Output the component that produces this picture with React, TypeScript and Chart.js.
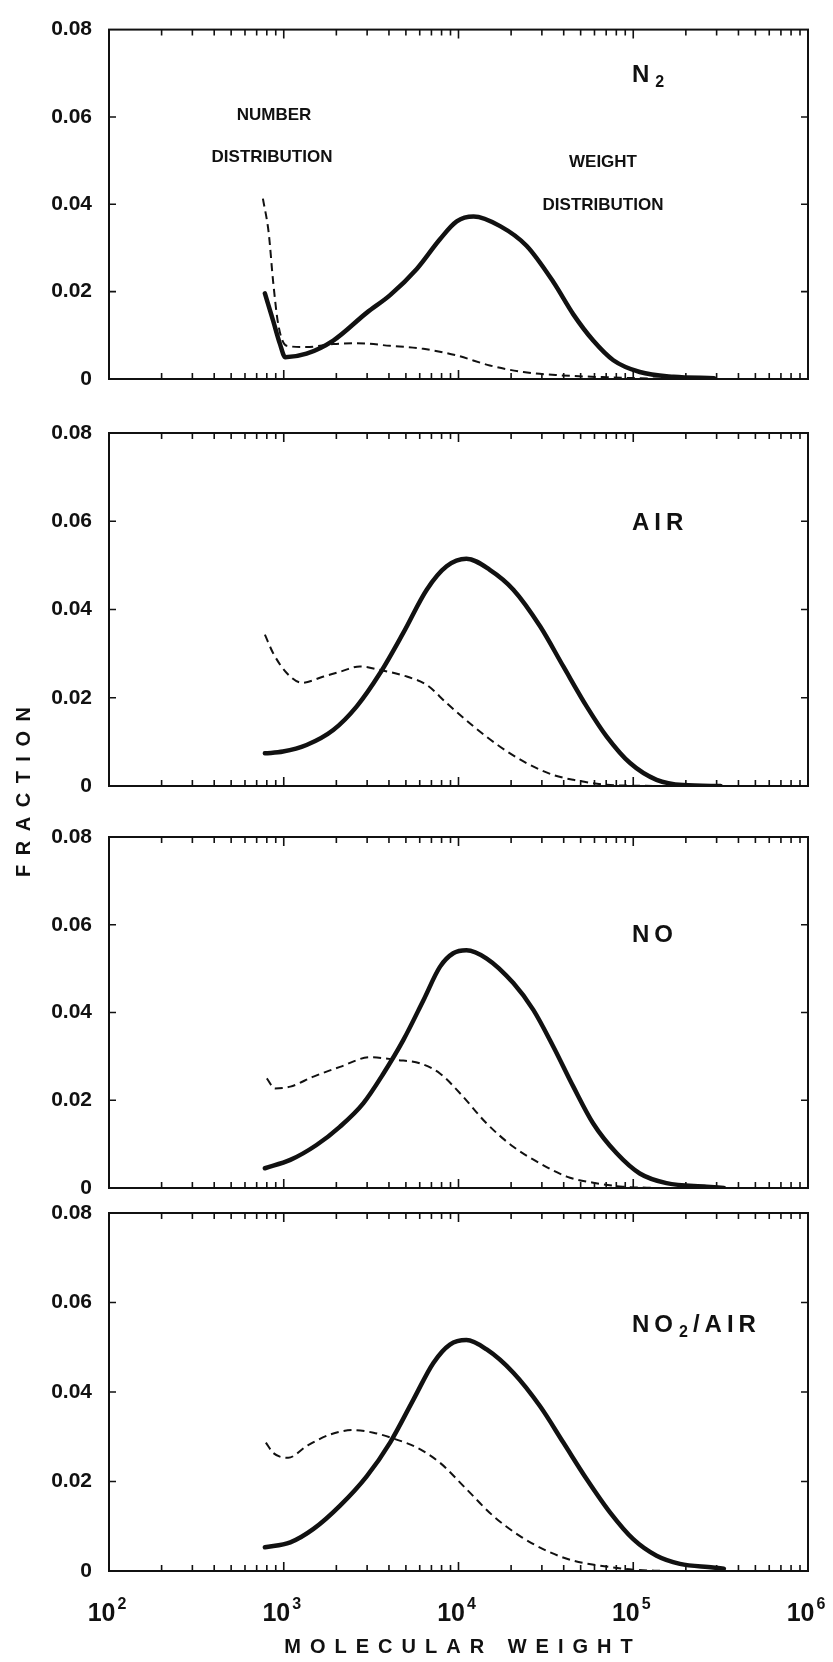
import React, { useEffect, useRef } from 'react';
import { Chart, registerables } from 'chart.js';

Chart.register(...registerables);

// ---------- tick labels ----------
const xTickDecades = [100, 1000, 10000, 100000, 1000000];
const xTickExponents = ['2', '3', '4', '5', '6'];
const yTickValues = [0, 0.02, 0.04, 0.06, 0.08];

// ---------- N2 ----------
const n2WeightMW = [780, 870, 950, 1020, 1350, 1920, 2990, 4060, 5770, 7830, 9770, 12200, 17300, 24500, 34900, 45400, 59000, 76900, 109000, 170000, 290000];
const n2WeightFrac = [0.0196, 0.0133, 0.0081, 0.005, 0.0058, 0.0088, 0.0152, 0.0192, 0.0252, 0.032, 0.0361, 0.0372, 0.035, 0.0305, 0.0222, 0.0148, 0.0088, 0.0043, 0.0016, 0.0005, 0.0002];
const n2NumberMW = [760, 820, 870, 930, 1040, 1350, 1920, 2610, 4060, 6300, 9770, 15100, 23500, 36500, 70500, 135000, 250000];
const n2NumberFrac = [0.0413, 0.0335, 0.0222, 0.0125, 0.0076, 0.0073, 0.008, 0.0082, 0.0076, 0.0069, 0.0054, 0.0031, 0.0016, 0.0009, 0.0004, 0.0001, 0.0];

// ---------- AIR ----------
const airWeightMW = [780, 990, 1350, 1920, 2610, 3560, 4830, 6580, 8550, 11100, 15100, 20600, 29300, 39800, 54200, 70500, 95900, 136000, 193000, 316000];
const airWeightFrac = [0.0074, 0.0078, 0.0093, 0.0127, 0.018, 0.0256, 0.0347, 0.0445, 0.0498, 0.0515, 0.049, 0.0445, 0.0362, 0.0271, 0.018, 0.0112, 0.0052, 0.0014, 0.0002, 0.0];
const airNumberMW = [780, 870, 1040, 1270, 1690, 2100, 2730, 3560, 5060, 6580, 8550, 12200, 17300, 24500, 34900, 45400, 70500, 130000];
const airNumberFrac = [0.0343, 0.0301, 0.0256, 0.0234, 0.0248, 0.0259, 0.0271, 0.0263, 0.0248, 0.0229, 0.0188, 0.0135, 0.0089, 0.0052, 0.0025, 0.0014, 0.0003, 0.0];

// ---------- NO ----------
const noWeightMW = [780, 1090, 1540, 2100, 2850, 3720, 4830, 6300, 7830, 9330, 11100, 14500, 20600, 26800, 34900, 45400, 59000, 80400, 109000, 155000, 263000, 330000];
const noWeightFrac = [0.0045, 0.0064, 0.0098, 0.014, 0.0193, 0.0261, 0.0337, 0.0428, 0.0504, 0.0535, 0.0542, 0.0523, 0.0467, 0.0406, 0.0322, 0.0231, 0.0147, 0.0079, 0.0033, 0.0011, 0.0003, 0.0];
const noNumberMW = [800, 890, 1090, 1480, 2100, 3120, 4430, 6030, 7830, 10200, 14500, 20600, 29300, 41600, 59000, 87100, 140000];
const noNumberFrac = [0.025, 0.0227, 0.0231, 0.0254, 0.0276, 0.0298, 0.0292, 0.0284, 0.0261, 0.0216, 0.0147, 0.0094, 0.0056, 0.0026, 0.0012, 0.0003, 0.0];

// ---------- NO2/AIR ----------
const no2WeightMW = [780, 1090, 1480, 2100, 2990, 4060, 5520, 7180, 8930, 11100, 14500, 20600, 29300, 39800, 54200, 73600, 100000, 136000, 185000, 286000, 330000];
const no2WeightFrac = [0.0053, 0.0064, 0.0094, 0.0146, 0.0212, 0.0287, 0.0383, 0.0465, 0.0506, 0.0516, 0.0495, 0.0443, 0.0368, 0.0287, 0.0205, 0.0131, 0.0071, 0.0034, 0.0016, 0.0008, 0.0005];
const no2NumberMW = [790, 870, 1060, 1350, 1840, 2500, 3260, 4240, 5770, 7830, 11100, 15800, 22500, 32000, 45400, 64600, 100000, 150000];
const no2NumberFrac = [0.0287, 0.0264, 0.0253, 0.0279, 0.0305, 0.0315, 0.0309, 0.0296, 0.0276, 0.0242, 0.0183, 0.0123, 0.0078, 0.0045, 0.0023, 0.0012, 0.0003, 0.0];

// ---------- panel text ----------
const panelMain = ['N', 'AIR', 'NO', 'NO'];
const panelSub = ['2', '', '', '2'];
const panelTail = ['', '', '', '/AIR'];

// layout (page pixels)
const PAGE_W = 833;
const PAGE_H = 1662;
const AREA_LEFT = 109;
const AREA_RIGHT = 808;
const panelTop = [24, 433, 837, 1213];
const panelBottom = [379, 786, 1188, 1571];
const labelBaseline = [82, 530, 942, 1332];
const LABEL_X = 632;

const INK = '#111';
const FONT = '"Liberation Sans", Arial, Helvetica, sans-serif';

const panels = [
  { w: [n2WeightMW, n2WeightFrac], n: [n2NumberMW, n2NumberFrac] },
  { w: [airWeightMW, airWeightFrac], n: [airNumberMW, airNumberFrac] },
  { w: [noWeightMW, noWeightFrac], n: [noNumberMW, noNumberFrac] },
  { w: [no2WeightMW, no2WeightFrac], n: [no2NumberMW, no2NumberFrac] },
];

function spaced(ctx: CanvasRenderingContext2D, text: string, spacing: number) {
  let w = 0;
  for (let i = 0; i < text.length; i++) {
    w += ctx.measureText(text[i]).width + (i < text.length - 1 ? spacing : 0);
  }
  return w;
}

function drawSpaced(ctx: CanvasRenderingContext2D, text: string, x: number, y: number, spacing: number) {
  let cx = x;
  for (let i = 0; i < text.length; i++) {
    ctx.fillText(text[i], cx, y);
    cx += ctx.measureText(text[i]).width + spacing;
  }
  return cx - spacing;
}

function makePlugin(idx: number) {
  return {
    id: 'panelDecor' + idx,
    afterDraw(chart: any) {
      const ctx: CanvasRenderingContext2D = chart.ctx;
      const a = chart.chartArea;
      const xs = chart.scales.x;
      const ys = chart.scales.y;
      ctx.save();
      ctx.strokeStyle = INK;
      ctx.fillStyle = INK;
      // frame
      ctx.lineWidth = 2;
      ctx.strokeRect(a.left, a.top, a.right - a.left, a.bottom - a.top);
      // x ticks (top and bottom, inward)
      ctx.lineWidth = 1.6;
      ctx.beginPath();
      for (let d = 0; d < xTickDecades.length - 1; d++) {
        for (let m = 1; m <= 9; m++) {
          const px = xs.getPixelForValue(xTickDecades[d] * m);
          const len = m === 1 ? 9 : 6;
          ctx.moveTo(px, a.bottom);
          ctx.lineTo(px, a.bottom - len);
          ctx.moveTo(px, a.top);
          ctx.lineTo(px, a.top + len);
        }
      }
      // y ticks (left and right, inward)
      for (const v of yTickValues) {
        if (v === 0 || v === 0.08) continue;
        const py = ys.getPixelForValue(v);
        ctx.moveTo(a.left, py);
        ctx.lineTo(a.left + 7, py);
        ctx.moveTo(a.right, py);
        ctx.lineTo(a.right - 7, py);
      }
      ctx.stroke();

      // panel label
      ctx.textBaseline = 'alphabetic';
      ctx.textAlign = 'left';
      ctx.font = `bold 24px ${FONT}`;
      let cx = drawSpaced(ctx, panelMain[idx], LABEL_X, labelBaseline[idx], 5);
      if (panelSub[idx]) {
        ctx.font = `bold 16px ${FONT}`;
        cx = drawSpaced(ctx, panelSub[idx], cx + 6, labelBaseline[idx] + 5, 0);
      }
      if (panelTail[idx]) {
        ctx.font = `bold 24px ${FONT}`;
        drawSpaced(ctx, panelTail[idx], cx + 5, labelBaseline[idx], 5);
      }

      if (idx === 0) {
        ctx.font = `bold 17px ${FONT}`;
        ctx.textAlign = 'center';
        ctx.fillText('NUMBER', 274, 120);
        ctx.fillText('DISTRIBUTION', 272, 162);
        ctx.fillText('WEIGHT', 603, 167);
        ctx.fillText('DISTRIBUTION', 603, 210);
      }

      if (idx === panelTop.length - 1) {
        // x tick labels 10^n
        ctx.textAlign = 'left';
        ctx.textBaseline = 'alphabetic';
        for (let i = 0; i < xTickDecades.length; i++) {
          const px = xs.getPixelForValue(xTickDecades[i]);
          ctx.font = `bold 25px ${FONT}`;
          const wBase = ctx.measureText('10').width;
          ctx.font = `bold 16px ${FONT}`;
          const wExp = ctx.measureText(xTickExponents[i]).width;
          const total = wBase + 2 + wExp;
          const x0 = px - 2 - total / 2;
          ctx.font = `bold 25px ${FONT}`;
          ctx.fillText('10', x0, 1621);
          ctx.font = `bold 16px ${FONT}`;
          ctx.fillText(xTickExponents[i], x0 + wBase + 2, 1609);
        }
        // x title
        ctx.font = `bold 20px ${FONT}`;
        const title = 'MOLECULAR WEIGHT';
        const tw = spaced(ctx, title, 9);
        drawSpaced(ctx, title, (a.left + a.right) / 2 - tw / 2, 1653, 9);
        // y title
        ctx.save();
        ctx.translate(30, 792);
        ctx.rotate(-Math.PI / 2);
        const ytitle = 'FRACTION';
        const yw = spaced(ctx, ytitle, 9.5);
        drawSpaced(ctx, ytitle, -yw / 2, 0, 9.5);
        ctx.restore();
      }
      ctx.restore();
    },
  };
}

function Panel({ idx }: { idx: number }) {
  const ref = useRef<HTMLCanvasElement | null>(null);
  useEffect(() => {
    const canvas = ref.current;
    if (!canvas) return;
    const p = panels[idx];
    const toPts = (mw: number[], fr: number[]) => mw.map((m, i) => ({ x: m, y: fr[i] }));
    const chart = new Chart(canvas, {
      type: 'line',
      data: {
        datasets: [
          {
            label: 'Weight distribution',
            data: toPts(p.w[0], p.w[1]),
            borderColor: INK,
            borderWidth: 4.5,
            pointRadius: 0,
            tension: 0.4,
            cubicInterpolationMode: 'monotone',
            fill: false,
            borderCapStyle: 'round',
            borderJoinStyle: 'round',
          },
          {
            label: 'Number distribution',
            data: toPts(p.n[0], p.n[1]),
            borderColor: INK,
            borderWidth: 2,
            borderDash: [8, 5],
            pointRadius: 0,
            tension: 0.4,
            cubicInterpolationMode: 'monotone',
            fill: false,
          },
        ],
      },
      options: {
        animation: false,
        responsive: false,
        maintainAspectRatio: false,
        devicePixelRatio: 1,
        events: [],
        layout: {
          padding: {
            left: 0,
            right: PAGE_W - AREA_RIGHT,
            top: panelTop[idx],
            bottom: PAGE_H - panelBottom[idx],
          },
        },
        plugins: {
          legend: { display: false },
          tooltip: { enabled: false },
          title: { display: false },
        },
        scales: {
          x: {
            type: 'logarithmic',
            min: xTickDecades[0],
            max: xTickDecades[xTickDecades.length - 1],
            grid: { display: false, drawTicks: false },
            border: { display: false },
            ticks: { display: false },
            afterFit: (s: any) => {
              s.height = 0;
            },
          },
          y: {
            type: 'linear',
            min: yTickValues[0],
            max: yTickValues[yTickValues.length - 1],
            grid: { display: false, drawTicks: false },
            border: { display: false },
            afterBuildTicks: (s: any) => {
              s.ticks = yTickValues.map((v) => ({ value: v }));
            },
            ticks: {
              padding: 17,
              color: INK,
              font: { family: FONT, size: 21, weight: 'bold' },
              callback: (v: any) => (Number(v) === 0 ? '0' : Number(v).toFixed(2)),
            },
            afterFit: (s: any) => {
              s.width = AREA_LEFT;
            },
          },
        },
      },
      plugins: [makePlugin(idx)],
    } as any);
    return () => chart.destroy();
  }, [idx]);
  return (
    <canvas
      ref={ref}
      width={PAGE_W}
      height={PAGE_H}
      style={{ position: 'absolute', left: 0, top: 0, width: PAGE_W, height: PAGE_H }}
    />
  );
}

export default function App() {
  return (
    <div style={{ position: 'absolute', left: 0, top: 0, width: PAGE_W, height: PAGE_H, background: '#fff' }}>
      {panelTop.map((_, i) => (
        <Panel key={i} idx={i} />
      ))}
    </div>
  );
}
